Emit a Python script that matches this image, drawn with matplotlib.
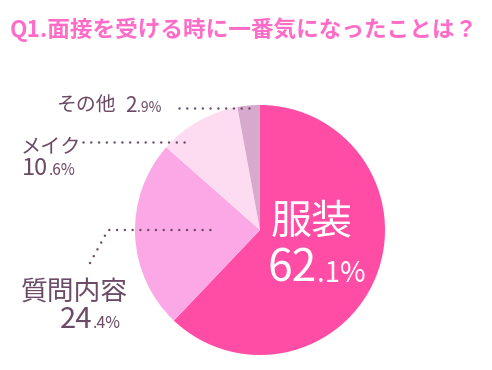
import matplotlib.pyplot as plt

plt.rcParams['font.family'] = ['Noto Sans CJK JP', 'DejaVu Sans']

# ---- data ----
TITLE = "Q1.面接を受ける時に一番気になったことは？"
categories = ["服装", "質問内容", "メイク", "その他"]
values = [62.1, 24.4, 10.6, 2.9]
colors = ["#ff4da6", "#fca8e6", "#fddcf1", "#d7a9cd"]

TEXT_C = "#6b4a66"
W, H = 492, 370

fig = plt.figure(figsize=(W / 100, H / 100), dpi=100)
ax = fig.add_axes([0, 0, 1, 1])

# pie in pixel space (y flipped below, so start at 270 and go ccw in data = clockwise on screen)
ax.pie(values, colors=colors, startangle=270, counterclock=True,
       center=(260, 230), radius=125, wedgeprops=dict(linewidth=0))
ax.set_xlim(0, W)
ax.set_ylim(H, 0)
ax.set_aspect("equal")
ax.axis("off")

ax.text(10, 37, TITLE, color="#ff6cc8", fontsize=16.3, fontweight="bold", va="baseline")


def label(x, y, name, name_fs, value, nx, ny, big_fs, small_fs, color=TEXT_C):
    a, b = f"{value:.1f}".split(".")
    ax.text(x, y, name, fontsize=name_fs, color=color, va="baseline")
    t = ax.text(nx, ny, a, fontsize=big_fs, color=color, va="baseline")
    # small ".x%" part right after the big digits, on the same baseline
    ax.annotate("." + b + "%", xy=(1, ny), xycoords=(t, "data"), xytext=(0.5, 0),
                textcoords="offset points", fontsize=small_fs, color=color,
                ha="left", va="baseline")


label(57, 112, categories[3], 14.3, values[3], 125, 112, 15, 10)
label(21, 153, categories[2], 14.5, values[2], 22, 175, 17, 11)
label(21, 300, categories[1], 19.3, values[1], 60, 328, 21, 11.5)
label(271, 233, categories[0], 29.5, values[0], 267, 282, 32, 20, color="white")

dot = dict(color=TEXT_C, linewidth=1.8, linestyle=(0, (0.01, 3.1)), dash_capstyle="round")
ax.plot([179, 253], [108, 108], **dot)
ax.plot([83, 188], [142, 142], **dot)
ax.plot([90, 108, 213], [263, 230, 230], **dot)

fig.savefig("out.png", dpi=100)
